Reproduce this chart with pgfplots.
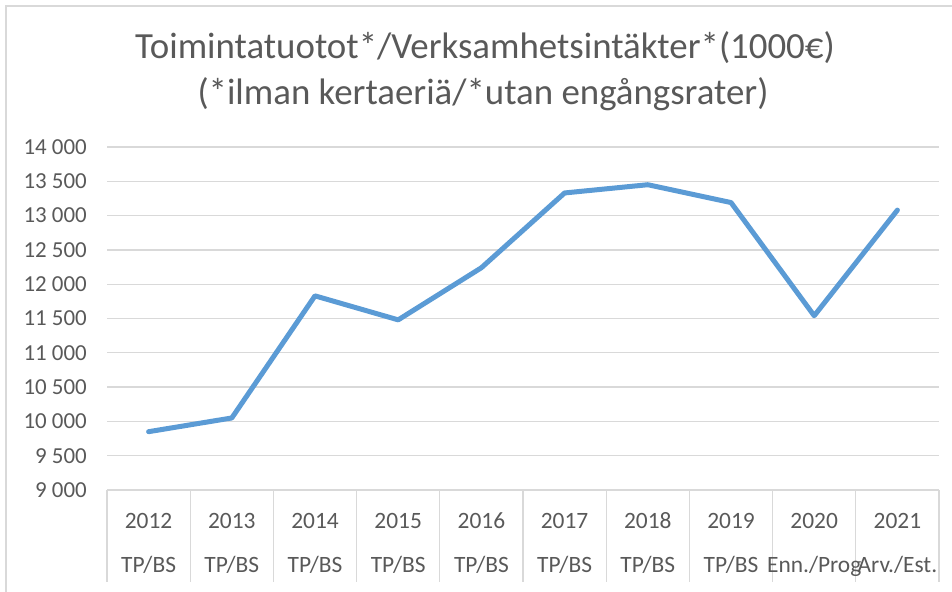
\documentclass[border=0pt]{standalone}
\usepackage{pgfplots}
\pgfplotsset{compat=1.18}
\usepackage{fontspec}
\setmainfont{Carlito}
\definecolor{txt}{HTML}{595959}
\definecolor{gridc}{HTML}{D9D9D9}
\definecolor{linec}{HTML}{5B9BD5}
\newcommand\LB[2]{\rule{0pt}{17bp}#1\\#2}
\begin{document}
\begin{tikzpicture}[x=1bp,y=1bp]
\path[use as bounding box] (0,0) rectangle (952,592);
\draw[gridc, line width=1.5bp] (6,0) -- (6,586) -- (952,586);
\node[text=txt, font=\fontsize{37}{47}\selectfont, anchor=base, inner sep=0pt] at (485,533) {Toimintatuotot*/Verksamhetsintäkter*(1000€)};
\node[text=txt, font=\fontsize{37}{47}\selectfont, anchor=base, inner sep=0pt] at (483,487) {(*ilman kertaeriä/*utan engångsrater)};
\begin{axis}[at={(107bp,102bp)}, anchor=south west, scale only axis,
  width=832bp, height=343bp,
  xmin=-0.5, xmax=9.5, ymin=9000, ymax=14000,
  scaled ticks=false,
  axis x line*=bottom, axis y line*=left, axis line style={draw=none},
  ymajorgrids, grid style={gridc, line width=1.3bp},
  ytick={9000,9500,...,14000},
  xtick={0,...,9},
  xticklabels={\LB{2012}{TP/BS},\LB{2013}{TP/BS},\LB{2014}{TP/BS},\LB{2015}{TP/BS},\LB{2016}{TP/BS},\LB{2017}{TP/BS},\LB{2018}{TP/BS},\LB{2019}{TP/BS},\LB{2020}{Enn./Prog},\LB{2021}{Arv./Est.}},
  minor xtick={-0.5,0.5,...,9.5},
  major tick length=0pt, minor tick length=92bp, tick align=outside,
  minor tick style={gridc, line width=1.3bp},
  xticklabel style={font=\fontsize{23.5}{44}\selectfont, text=txt, align=center, inner sep=0pt, anchor=north, yshift=-21bp},
  yticklabel style={font=\fontsize{23}{27}\selectfont, text=txt, inner sep=0pt, anchor=east, xshift=-20bp},
  /pgf/number format/.cd, assume math mode=true, 1000 sep={\ }, fixed,
]
\addplot[linec, line width=5bp, line join=round, line cap=round] coordinates {
(0,9850)(1,10050)(2,11830)(3,11480)(4,12240)(5,13330)(6,13450)(7,13190)(8,11540)(9,13080)};
\end{axis}
\end{tikzpicture}
\end{document}
